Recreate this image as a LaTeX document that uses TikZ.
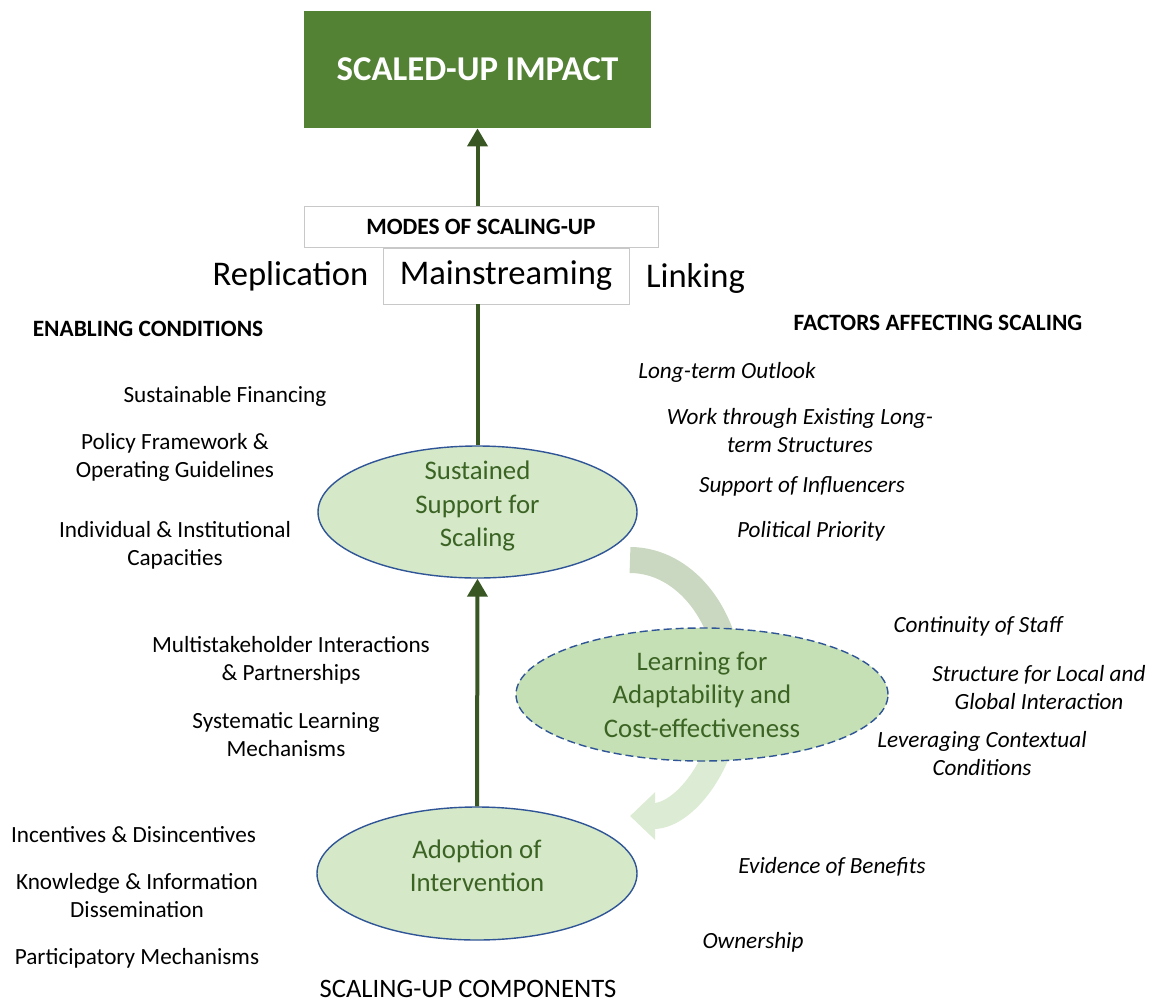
\documentclass[tikz,border=0pt]{standalone}
\usepackage{fontspec}
\setmainfont{Carlito}
\usepackage{tikz}
\usetikzlibrary{arrows.meta,positioning,shapes.geometric}
\usepackage{xcolor}
\definecolor{impactgreen}{HTML}{548235}
\definecolor{arrowgreen}{HTML}{385723}
\definecolor{ovalfill}{HTML}{D5E8C8}
\definecolor{learnfill}{HTML}{C5E0B4}
\definecolor{ovalline}{HTML}{2F5597}
\definecolor{ovaltext}{HTML}{3B6324}
\definecolor{bandtop}{HTML}{CAD8C2}
\definecolor{bandlow}{HTML}{DCEBD3}
\definecolor{boxline}{HTML}{C8C8C8}
\newcommand{\lowstrut}{\rule[-8pt]{0pt}{8pt}}

\begin{document}
\begin{tikzpicture}[x=0.5pt,y=-0.5pt]
	\useasboundingbox (0,0) rectangle (1151,1002);
	% feedback band behind the learning oval
	\coordinate (loop) at (630,688);
	\draw[bandtop,line width=13pt] (loop) ++(0,-128) arc[start angle=90,end angle=0,x radius=50pt,y radius=64pt];
	\draw[bandlow,line width=13pt,-{Triangle[length=12.5pt,width=23pt]}] (loop) ++(100,0) arc[start angle=0,end angle=-90,x radius=50pt,y radius=64pt];
	\begin{scope}[every node/.style={draw=boxline,fill=white,inner sep=0pt}]
		\node[fill=impactgreen,draw=none,minimum width=173.5pt,minimum height=58.5pt,text=white,font=\fontsize{17.4}{21}\selectfont\bfseries] (impact) at (477.5,69.5) {SCALED-UP IMPACT};
		\node[minimum width=177pt,minimum height=20.5pt,font=\fontsize{11.7}{14}\selectfont\bfseries] (modes) at (481,226.5) {MODES OF SCALING-UP};
		\node[minimum width=123pt,minimum height=28pt,font=\fontsize{17.3}{21}\selectfont] (mainstream) at (506,276) {Mainstreaming};
	\end{scope}
	\begin{scope}[every node/.style={ellipse,draw=ovalline,line width=0.7pt,fill=ovalfill,text=ovaltext,align=center,inner sep=0pt,font=\fontsize{13.4}{16.75}\selectfont}]
		\node[inner ysep=-3pt,minimum width=159.5pt,minimum height=66pt] (sustain) at (477.5,512) {Sustained\\Support for\\Scaling\lowstrut};
		\node[dash pattern=on 4pt off 2pt,fill=learnfill,minimum width=186pt,minimum height=66.5pt] (learn) at (702,694.5) {Learning for\\Adaptability and\\Cost-effectiveness};
		\node[inner ysep=-3pt,minimum width=160pt,minimum height=66.5pt] (adopt) at (477,873.5) {Adoption of\\Intervention\lowstrut};
	\end{scope}
	\draw[arrowgreen,line width=2pt] (sustain.north) -- (sustain.north |- mainstream.south);
	\draw[arrowgreen,line width=2pt,-{Triangle[length=9pt,width=10pt]}] (impact.south |- modes.north) -- (impact.south);
	\draw[arrowgreen,line width=2pt,-{Triangle[length=9pt,width=10pt]}] (adopt.north) -- (sustain.south);
	\begin{scope}[every node/.style={inner sep=0pt,font=\fontsize{17.3}{21}\selectfont}]
		\node (replic) at (290.5,276) {Replication};
		\node (linking) at (695.5,278) {Linking};
	\end{scope}
	\begin{scope}[every node/.style={inner sep=0pt,font=\fontsize{11.7}{14}\selectfont\bfseries}]
		\node (enabling) at (148,329) {ENABLING CONDITIONS};
		\node (factors) at (938,323) {FACTORS AFFECTING SCALING};
	\end{scope}
	\node[inner sep=0pt,font=\fontsize{13.3}{16}\selectfont] (components) at (468,989) {SCALING-UP COMPONENTS};
	% enabling conditions
	\begin{scope}[every node/.style={align=center,inner sep=0pt,font=\fontsize{11.6}{14}\selectfont}]
		\node (finance) at (225,396) {Sustainable Financing};
		\node (policy) at (175,457) {Policy Framework \&\\Operating Guidelines};
		\node (capacity) at (175,545) {Individual \& Institutional\\Capacities};
		\node (partner) at (291,660) {Multistakeholder Interactions\\\& Partnerships};
		\node (syslearn) at (286,735) {Systematic Learning\\Mechanisms};
		\node (incent) at (133.5,835) {Incentives \& Disincentives};
		\node (knowledge) at (137,896) {Knowledge \& Information\\Dissemination};
		\node (particip) at (137,958) {Participatory Mechanisms};
	\end{scope}
	% factors affecting scaling
	\begin{scope}[every node/.style={align=center,inner sep=0pt,font=\fontsize{11.6}{14}\selectfont\itshape}]
		\node (outlook) at (727,372) {Long-term Outlook};
		\node (structures) at (800,431) {Work through Existing Long-\\term Structures};
		\node (influence) at (802,486) {Support of Influencers};
		\node (priority) at (811,531) {Political Priority};
		\node (staff) at (978,626) {Continuity of Staff};
		\node (interact) at (1039,688) {Structure for Local and\\Global Interaction};
		\node (context) at (982,754) {Leveraging Contextual\\Conditions};
		\node (evidence) at (832,867) {Evidence of Benefits};
		\node (owner) at (753,942) {Ownership};
	\end{scope}
\end{tikzpicture}
\end{document}
